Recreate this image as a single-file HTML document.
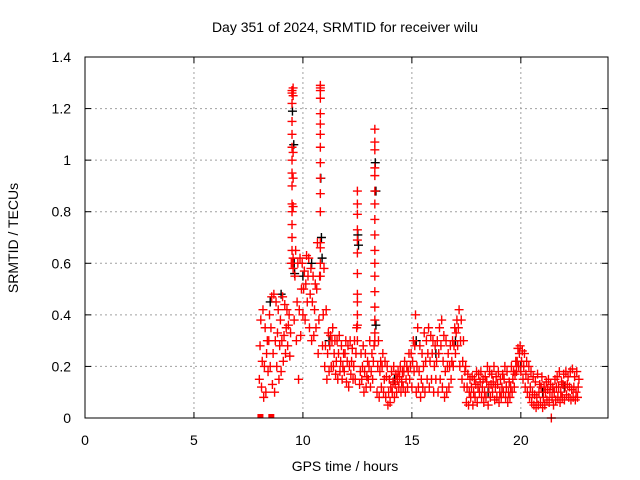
<!DOCTYPE html>
<html><head><meta charset="utf-8"><style>
body{margin:0;background:#fff}
svg{display:block;font-family:"Liberation Sans",sans-serif}
</style></head><body>
<svg id="chart" width="640" height="480" viewBox="0 0 640 480">
<text x="345" y="32" text-anchor="middle" font-size="14">Day 351 of 2024, SRMTID for receiver wilu</text>
<text x="345" y="471" text-anchor="middle" font-size="14">GPS time / hours</text>
<text transform="translate(18,238) rotate(-90)" text-anchor="middle" font-size="14">SRMTID / TECUs</text>
<g id="grid"></g><g id="ticks"></g><g id="black"></g><g id="red"></g>
<rect x="85" y="57" width="523" height="361" fill="none" stroke="#000" stroke-width="1"/>
</svg>
<script>
const xTicks=[0,5,10,15,20];
const yTicks=[0,0.2,0.4,0.6,0.8,1,1.2,1.4];
const yTickLabels=["0","0.2","0.4","0.6","0.8","1","1.2","1.4"];
const times=[8.0,8.1,8.2,8.3,8.4,8.5,8.6,8.7,8.8,8.9,9.0,9.1,9.2,9.3,9.4,9.6,9.7,9.8,9.9,10.0,10.1,10.2,10.3,10.4,10.5,10.6,10.7,10.9,11.0,11.1,11.2,11.3,11.4,11.5,11.6,11.7,11.8,11.9,12.0,12.1,12.2,12.3,12.4,12.6,12.7,12.8,12.9,13.0,13.1,13.2,13.4,13.5,13.6,13.7,13.8,13.9,14.0,14.1,14.2,14.3,14.4,14.5,14.6,14.7,14.8,14.9,15.0,15.1,15.2,15.3,15.4,15.5,15.6,15.7,15.8,15.9,16.0,16.1,16.2,16.3,16.4,16.5,16.6,16.7,16.8,16.9,17.0,17.1,17.2,17.3,17.4,17.5,17.6,17.7,17.8,17.9,18.0,18.1,18.2,18.3,18.4,18.5,18.6,18.7,18.8,18.9,19.0,19.1,19.2,19.3,19.4,19.5,19.6,19.7,19.8,19.9,20.0,20.1,20.2,20.3,20.4,20.5,20.6,20.7,20.8,20.9,21.0,21.1,21.2,21.3,21.4,21.5,21.6,21.7,21.8,21.9,22.0,22.1,22.2,22.3,22.4,22.5,22.6];
const lo=[0.15,0.12,0.08,0.1,0.18,0.2,0.13,0.1,0.2,0.15,0.18,0.22,0.25,0.28,0.24,0.38,0.3,0.15,0.32,0.4,0.38,0.45,0.35,0.3,0.32,0.35,0.25,0.28,0.2,0.15,0.18,0.2,0.2,0.17,0.15,0.18,0.15,0.18,0.14,0.12,0.17,0.15,0.15,0.13,0.15,0.1,0.12,0.15,0.12,0.15,0.1,0.08,0.12,0.1,0.08,0.05,0.06,0.1,0.08,0.1,0.12,0.1,0.12,0.1,0.12,0.15,0.12,0.18,0.1,0.12,0.08,0.12,0.1,0.15,0.12,0.15,0.1,0.15,0.1,0.15,0.12,0.08,0.1,0.12,0.15,0.2,0.25,0.28,0.2,0.15,0.12,0.06,0.05,0.08,0.05,0.08,0.06,0.1,0.08,0.06,0.08,0.05,0.08,0.1,0.07,0.08,0.06,0.08,0.1,0.08,0.06,0.08,0.1,0.12,0.18,0.2,0.18,0.15,0.12,0.1,0.08,0.06,0.05,0.04,0.05,0.06,0.04,0.05,0.07,0.06,0.0,0.05,0.07,0.08,0.06,0.08,0.07,0.09,0.08,0.07,0.08,0.07,0.08];
const mid=[0.28,0.22,0.2,0.25,0.3,0.35,0.25,0.3,0.33,0.28,0.3,0.32,0.35,0.36,0.33,0.55,0.45,0.42,0.5,0.5,0.52,0.55,0.48,0.45,0.42,0.5,0.38,0.4,0.28,0.25,0.28,0.3,0.25,0.22,0.25,0.22,0.2,0.25,0.22,0.2,0.22,0.2,0.25,0.18,0.2,0.18,0.16,0.2,0.18,0.22,0.2,0.18,0.2,0.15,0.16,0.1,0.12,0.14,0.13,0.15,0.16,0.14,0.18,0.15,0.18,0.2,0.22,0.28,0.2,0.18,0.15,0.2,0.22,0.25,0.22,0.25,0.2,0.22,0.25,0.28,0.22,0.18,0.2,0.2,0.22,0.28,0.33,0.35,0.3,0.22,0.18,0.12,0.1,0.12,0.1,0.13,0.12,0.14,0.12,0.1,0.14,0.12,0.13,0.14,0.12,0.13,0.1,0.12,0.15,0.12,0.1,0.12,0.15,0.17,0.22,0.25,0.22,0.2,0.17,0.15,0.12,0.1,0.09,0.08,0.1,0.12,0.08,0.1,0.11,0.1,0.08,0.1,0.12,0.12,0.1,0.13,0.12,0.13,0.12,0.11,0.12,0.1,0.12];
const hi=[0.38,0.42,0.35,0.3,0.4,0.47,0.48,0.45,0.42,0.38,0.47,0.44,0.42,0.4,0.6,0.65,0.6,0.62,0.6,0.57,0.63,0.62,0.58,0.55,0.52,0.68,0.55,0.58,0.42,0.33,0.32,0.35,0.3,0.3,0.32,0.28,0.25,0.3,0.28,0.3,0.27,0.3,0.35,0.25,0.28,0.25,0.22,0.3,0.25,0.28,0.3,0.22,0.25,0.22,0.2,0.15,0.18,0.2,0.17,0.18,0.2,0.18,0.22,0.2,0.25,0.25,0.3,0.4,0.35,0.28,0.25,0.33,0.3,0.35,0.32,0.3,0.28,0.3,0.35,0.38,0.32,0.3,0.25,0.28,0.3,0.35,0.38,0.42,0.38,0.3,0.2,0.17,0.15,0.16,0.15,0.18,0.17,0.18,0.15,0.16,0.2,0.18,0.17,0.2,0.16,0.18,0.15,0.17,0.2,0.18,0.14,0.2,0.18,0.22,0.27,0.28,0.26,0.25,0.22,0.2,0.18,0.16,0.14,0.17,0.13,0.16,0.12,0.14,0.15,0.13,0.12,0.15,0.16,0.18,0.14,0.17,0.18,0.16,0.18,0.19,0.16,0.18,0.15];
const spikeT=[9.5,9.5,9.5,9.5,9.5,9.5,9.5,9.5,9.5,9.5,9.5,9.5,9.5,9.5,9.5,9.55,9.55,9.55,9.55,9.55,9.55,9.55,10.8,10.8,10.8,10.8,10.8,10.8,10.8,10.8,10.8,10.8,10.8,10.8,10.8,10.8,10.8,10.8,12.5,12.5,12.5,12.5,12.5,12.5,12.5,12.5,12.5,12.5,12.5,12.5,13.3,13.3,13.3,13.3,13.3,13.3,13.3,13.3,13.3,13.3,13.3,13.3,13.3,13.3,13.3,13.3,13.3];
const spikeV=[1.27,1.26,1.22,1.15,1.1,1.05,1.0,0.95,0.9,0.83,0.8,0.75,0.7,0.65,0.6,1.28,1.25,1.03,0.93,0.82,0.62,0.58,1.29,1.28,1.27,1.24,1.18,1.14,1.1,1.05,0.99,0.93,0.87,0.8,0.68,0.66,0.6,0.55,0.88,0.83,0.79,0.73,0.69,0.64,0.56,0.48,0.45,0.4,0.36,0.3,1.12,1.07,1.04,0.97,0.94,0.88,0.83,0.77,0.71,0.65,0.6,0.55,0.49,0.43,0.38,0.33,0.3];
const zeroT=[8.05,8.55];
const blackT=[9.52,9.58,9.6,9.62,10.82,10.85,10.88,12.52,12.55,13.32,13.35,13.35,8.5,9.0,10.0,10.4,11.2,14.2,15.2,16.1,17.0,18.5,20.0,21.0,22.0];
const blackV=[1.19,1.06,0.6,0.56,0.93,0.7,0.62,0.71,0.67,0.99,0.88,0.36,0.45,0.48,0.55,0.6,0.3,0.15,0.3,0.25,0.3,0.1,0.2,0.1,0.12];

const NS="http://www.w3.org/2000/svg";
const X0=85,X1=608,Y0=418,Y1=57;
function xs(t){return X0+(t/24)*(X1-X0);}
function ys(v){return Y0-(v/1.4)*(Y0-Y1);}
function mk(tag,attrs,parent){const e=document.createElementNS(NS,tag);for(const k in attrs)e.setAttribute(k,attrs[k]);parent.appendChild(e);return e;}
const grid=document.getElementById('grid'),ticks=document.getElementById('ticks');
xTicks.forEach((t,i)=>{
  const x=xs(t);
  if(i>0){const g=mk('line',{x1:x,x2:x,y1:Y1,y2:Y0,stroke:'#a0a0a0','stroke-dasharray':'2,3'},grid);
  
  }
  mk('line',{x1:x,x2:x,y1:Y0,y2:Y0-6,stroke:'#000'},ticks);
  mk('line',{x1:x,x2:x,y1:Y1,y2:Y1+6,stroke:'#000'},ticks);
  const l=mk('text',{x:x,y:Y0+27,'text-anchor':'middle','font-size':'14'},ticks);
  l.textContent=String(t);
  
  
});
yTicks.forEach((v,i)=>{
  const y=ys(v);
  if(i>0&&i<yTicks.length-1){const g=mk('line',{x1:X0,x2:X1,y1:y,y2:y,stroke:'#a0a0a0','stroke-dasharray':'2,3'},grid);
  
  }
  mk('line',{x1:X0,x2:X0+6,y1:y,y2:y,stroke:'#000'},ticks);
  mk('line',{x1:X1,x2:X1-6,y1:y,y2:y,stroke:'#000'},ticks);
  const l=mk('text',{x:X0-14,y:y+5,'text-anchor':'end','font-size':'14'},ticks);
  l.textContent=yTickLabels[i];
  
  
});
function plus(g,t,v,color,name){
  const x=xs(t),y=ys(v);
  const p=mk('path',{d:`M${x-4.5},${y}H${x+4.5}M${x},${y-4.5}V${y+4.5}`,stroke:color,'stroke-width':'1.4',fill:'none'},g);
  
  
}
const bg=document.getElementById('black'),rg=document.getElementById('red');
blackT.forEach((t,i)=>plus(bg,t,blackV[i],'#000','black-point'));
const off=[0,0.033,0.067];
times.forEach((t,i)=>{
  plus(rg,t+off[0],lo[i],'#f00','red-point');
  plus(rg,t+off[1],mid[i],'#f00','red-point');
  plus(rg,t+off[2],hi[i],'#f00','red-point');
});
spikeT.forEach((t,i)=>plus(rg,t,spikeV[i],'#f00','red-point'));
zeroT.forEach(t=>{
  const r=mk('rect',{x:xs(t)-3,y:Y0-4,width:6,height:4,fill:'#f00'},rg);
  
  
});
</script>
</body></html>
